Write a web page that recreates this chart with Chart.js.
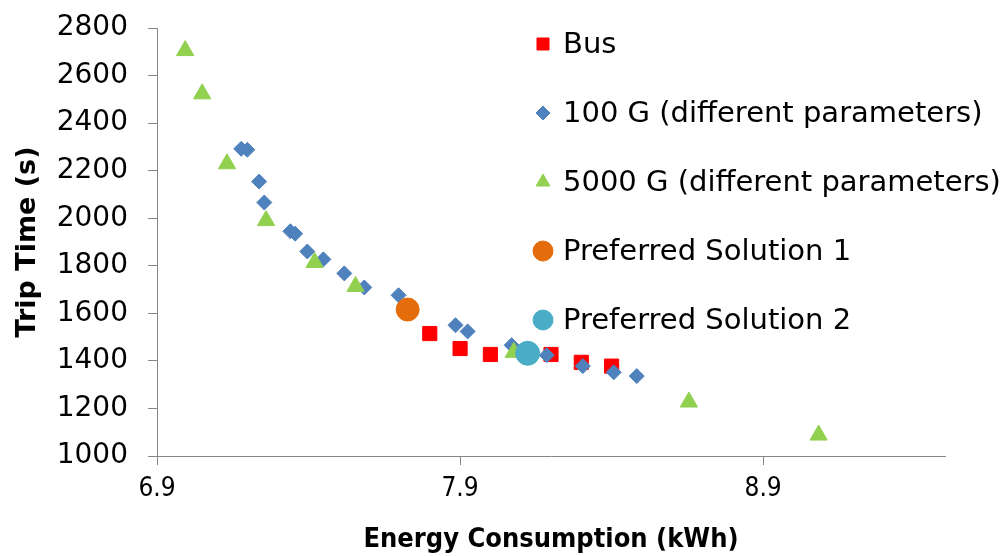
<!DOCTYPE html>
<html>
<head>
<meta charset="utf-8">
<script src="https://cdn.jsdelivr.net/npm/chart.js@4.4.1/dist/chart.umd.min.js"></script>
<style>
html, body { margin: 0; padding: 0; background: #fff; }
#wrap { width: 1003px; height: 556px; position: relative; }
</style>
</head>
<body>
<div id="wrap"><canvas id="chart"></canvas></div>
<script>
// values
var seriesNames = ["Bus", "100 G (different parameters)", "5000 G (different parameters)", "Preferred Solution 1", "Preferred Solution 2"];

var busEnergy = [7.80, 7.90, 8.00, 8.20, 8.30, 8.40];
var busTime   = [1515, 1452, 1427, 1427, 1394, 1378];

var g100Energy = [7.178, 7.198, 7.237, 7.254, 7.340, 7.356, 7.396, 7.449, 7.518, 7.584, 7.697, 7.885, 7.925, 8.070, 8.186, 8.305, 8.407, 8.483];
var g100Time   = [2292, 2288, 2154, 2066, 1945, 1935, 1860, 1827, 1768, 1709, 1676, 1550, 1524, 1466, 1424, 1378, 1352, 1336];

var g5000Energy = [6.993, 7.049, 7.131, 7.260, 7.420, 7.555, 8.077, 8.655, 9.083];
var g5000Time   = [2705, 2523, 2229, 1990, 1814, 1713, 1436, 1227, 1088];

var pref1Energy = [7.727];
var pref1Time   = [1616];
var pref2Energy = [8.123];
var pref2Time   = [1432];

var xTicks = [6.9, 7.9, 8.9];

function pts(xs, ys) {
    return xs.map(function (x, i) { return { x: x, y: ys[i] }; });
}

var legendRadius = [8.5, 7, 8, 10, 10];

var insideLegend = {
    id: 'insideLegend',
    afterDraw: function (chart) {
        var ctx = chart.ctx;
        var area = chart.chartArea;
        ctx.save();
        ctx.font = '29px "DejaVu Sans"';
        ctx.textBaseline = 'middle';
        chart.data.datasets.forEach(function (ds, i) {
            var x = area.left + 386;
            var y = area.top + 16 + i * 69;
            ctx.fillStyle = ds.backgroundColor;
            ctx.strokeStyle = ds.borderColor;
            Chart.helpers.drawPoint(ctx, { pointStyle: ds.pointStyle, radius: legendRadius[i], rotation: 0, borderWidth: 1 }, x, y);
            ctx.fillStyle = '#000';
            ctx.fillText(ds.label, x + 20, y + 1);
        });
        ctx.restore();
    }
};

var ctx = document.getElementById('chart').getContext('2d');

new Chart(ctx, {
    type: 'scatter',
    data: {
        datasets: [{
            label: seriesNames[0],
            data: pts(busEnergy, busTime),
            pointStyle: 'rect',
            pointRadius: 10,
            backgroundColor: '#FF0000',
            borderColor: '#FF0000',
            borderWidth: 1,
            order: 5
        }, {
            label: seriesNames[1],
            data: pts(g100Energy, g100Time),
            pointStyle: 'rectRot',
            pointRadius: 7.5,
            backgroundColor: '#4F81BD',
            borderColor: '#4F81BD',
            borderWidth: 1,
            order: 4
        }, {
            label: seriesNames[2],
            data: pts(g5000Energy, g5000Time),
            pointStyle: 'triangle',
            pointRadius: 10,
            backgroundColor: '#92D050',
            borderColor: '#92D050',
            borderWidth: 1,
            order: 3
        }, {
            label: seriesNames[3],
            data: pts(pref1Energy, pref1Time),
            pointStyle: 'circle',
            pointRadius: 11.5,
            backgroundColor: '#E46C0A',
            borderColor: '#E46C0A',
            borderWidth: 1,
            order: 2
        }, {
            label: seriesNames[4],
            data: pts(pref2Energy, pref2Time),
            pointStyle: 'circle',
            pointRadius: 12,
            backgroundColor: '#4BACC6',
            borderColor: '#4BACC6',
            borderWidth: 1,
            order: 1
        }]
    },
    options: {
        responsive: true,
        maintainAspectRatio: false,
        animation: false,
        layout: { padding: { top: 28, right: 58, bottom: 0, left: 0 } },
        plugins: {
            legend: { display: false },
            tooltip: { enabled: false }
        },
        scales: {
            x: {
                type: 'linear',
                min: 6.9,
                max: 9.5,
                afterBuildTicks: function (scale) {
                    scale.ticks = xTicks.map(function (v) { return { value: v }; });
                },
                afterFit: function (scale) { scale.height = 100; },
                border: { color: '#868686', width: 1 },
                grid: { drawOnChartArea: false, drawTicks: true, tickLength: 9, color: '#868686' },
                ticks: {
                    color: '#000',
                    padding: 9,
                    font: { family: '"DejaVu Sans Condensed", "DejaVu Sans"', size: 26 },
                    callback: function (v) { return v.toFixed(1); }
                },
                title: {
                    display: true,
                    text: 'Energy Consumption (kWh)',
                    color: '#000',
                    padding: 0,
                    font: { family: '"DejaVu Sans Condensed", "DejaVu Sans"', size: 27, weight: 'bold' }
                }
            },
            y: {
                min: 1000,
                max: 2800,
                afterFit: function (scale) {
                    scale.width = 157;
                    scale.paddingTop = 10;
                    scale.paddingBottom = 10;
                },
                border: { color: '#868686', width: 1 },
                grid: { drawOnChartArea: false, drawTicks: true, tickLength: 9, color: '#868686' },
                ticks: {
                    stepSize: 200,
                    color: '#000',
                    padding: 20,
                    font: { family: '"DejaVu Sans"', size: 28 },
                    callback: function (v) { return String(v); }
                },
                title: {
                    display: true,
                    text: 'Trip Time (s)',
                    color: '#000',
                    padding: { top: 12, bottom: 0 },
                    font: { family: '"DejaVu Sans"', size: 27, weight: 'bold' }
                }
            }
        }
    },
    plugins: [insideLegend]
});
</script>
</body>
</html>
